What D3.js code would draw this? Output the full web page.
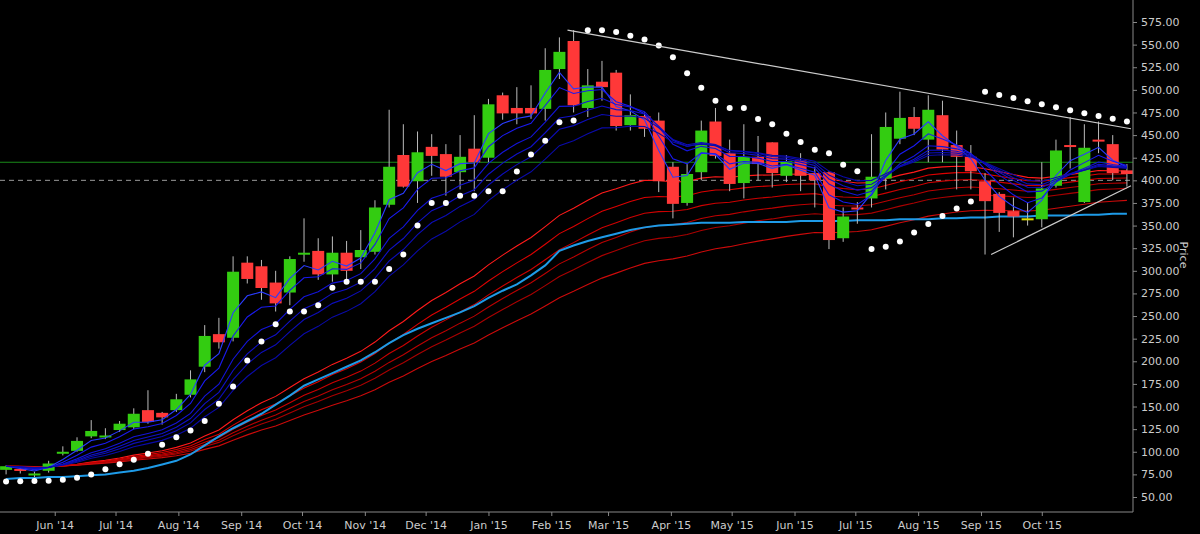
<!DOCTYPE html>
<html>
<head>
<meta charset="utf-8">
<script src="https://cdn.jsdelivr.net/npm/d3@7"></script>
<style>
body{margin:0;background:#000;}
text{font-family:"DejaVu Sans",sans-serif;}
</style>
</head>
<body>
<svg id="chart" width="1200" height="534"></svg>
<script>
// weekly candles, first week starts 2014-05-08
var opens  = [80,81,75,79,98,101,117,116,124,127,146,143,146,163,194,230,226,309,305,287,276,319,322,296,320,315,321,373,428,399,437,429,409,435,425,494,480,480,479,523,554,480,509,519,461,471,466,415,375,409,465,430,397,426,442,405,422,408,409,336,370,380,402,446,470,445,472,439,426,399,385,366,357,357,394,439,376,445,440,411];
var highs  = [85,82,78,90,106,116,135,126,134,148,168,144,164,190,240,248,316,316,312,300,316,358,336,338,333,345,378,478,462,454,451,440,450,472,490,497,503,505,546,558,566,523,532,522,495,475,475,420,418,466,480,445,462,449,442,428,430,415,410,370,376,451,475,498,481,494,488,455,439,408,387,381,375,420,445,470,462,465,450,418];
var lows   = [75,76,72,77,96,100,115,114,122,125,131,130,144,160,188,214,222,286,268,255,262,310,290,288,288,302,318,370,392,375,405,383,390,388,420,467,462,468,466,512,475,470,488,455,455,448,387,358,372,400,424,388,380,400,392,398,388,370,324,332,352,370,390,440,450,420,420,390,390,318,343,337,350,348,392,413,375,430,400,393];
var closes = [84,79,76,87,100,112,123,118,131,142,133,138,158,180,228,221,299,291,281,264,313,320,296,320,300,323,370,415,393,431,427,404,426,420,484,474,474,474,522,542,483,505,503,460,472,457,399,374,407,455,427,396,426,418,408,421,405,400,334,360,368,404,459,469,457,478,434,426,410,377,364,360,358,391,433,438,436,444,408,407];
// slow average (light blue) per week
var slowLine = [70,71,71,72,72,73,74,75,77,79,82,86,90,97,107,117,126,134,142,152,162,173,180,187,194,201,210,220,229,236,242,248,254,261,270,278,285,295,306,322,328,333,337,341,345,348,350,351,352,353,353,353,354,354,354,354,355,355,355,355,356,356,356,357,357,357,358,358,359,359,360,360,360,361,361,361,362,362,363,363];
var startDate = new Date(2014, 4, 8);
var shortPeriods = [3,5,8,10,12,15];
var longPeriods = [30,35,40,45,50,60];
var priceTicks = d3.range(50, 576, 25);
var levelLines = [420, 400];
// trend lines as [candle index, price]
var upperTrend = [[39.6,566],[79.4,457]];
var lowerTrend = [[69.5,318],[79.4,394]];

var svg = d3.select("#chart");
var plotRight = 1133, plotBottom = 512;
var x = d3.scaleTime().domain([d3.timeDay.offset(startDate,-3), d3.timeDay.offset(startDate, 79*7+3)]).range([0, 1133]);
var y = d3.scaleLinear().domain([50,575]).range([497,22]);
var xi = function(i){ return x(d3.timeDay.offset(startDate, i*7)); };

function ema(vals, p)
{
	var k = 2/(p+1), out = [], prev = vals[0];
	for(var i=0;i<vals.length;i++){ prev = i==0 ? vals[0] : vals[i]*k + prev*(1-k); out.push(prev); }
	return out;
}
function sar()
{
	var out = [], up = true, af = 0.02, ep = highs[0], s = lows[0]-8;
	out.push(s);
	for(var i=1;i<closes.length;i++)
	{
		s = s + af*(ep - s);
		if(up)
		{
			s = Math.min(s, lows[i-1], i>1?lows[i-2]:lows[i-1]);
			if(lows[i] < s){ up=false; s=ep; ep=lows[i]; af=0.02; }
			else if(highs[i] > ep){ ep=highs[i]; af=Math.min(0.2, af+0.02); }
		}
		else
		{
			s = Math.max(s, highs[i-1], i>1?highs[i-2]:highs[i-1]);
			if(highs[i] > s){ up=true; s=ep; ep=highs[i]; af=0.02; }
			else if(lows[i] < ep){ ep=lows[i]; af=Math.min(0.2, af+0.02); }
		}
		out.push(s);
	}
	return out;
}

// level lines
svg.append("line").attr("x1",0).attr("x2",plotRight).attr("y1",y(levelLines[0])).attr("y2",y(levelLines[0])).attr("stroke","#1a8a1a").attr("stroke-width",1.2);
svg.append("line").attr("x1",0).attr("x2",plotRight).attr("y1",y(levelLines[1])).attr("y2",y(levelLines[1])).attr("stroke","#999").attr("stroke-dasharray","5,4");

var line = d3.line().x(function(d,i){ return xi(i); }).y(function(d){ return y(d); });
var redCols = ["#ff1a1a","#dd0000","#cc0000","#bb0000","#aa0000","#cc0a0a"];
longPeriods.forEach(function(p,j){
	svg.append("path").attr("d",line(ema(closes,p))).attr("fill","none").attr("stroke",redCols[j]).attr("stroke-width",1.1);
});
svg.append("path").attr("d",line(slowLine)).attr("fill","none").attr("stroke","#1e9be8").attr("stroke-width",2);

// candles
var bw = 12;
var g = svg.append("g");
closes.forEach(function(c,i){
	var o = opens[i], cx = xi(i);
	var col = c>o ? "#33cc11" : (c<o ? "#ff3838" : "#dddd00");
	if(i==72) col = "#dddd00";
	g.append("line").attr("x1",cx).attr("x2",cx).attr("y1",y(highs[i])).attr("y2",y(lows[i])).attr("stroke","#bbb").attr("stroke-width",1);
	var top = y(Math.max(o,c)), bot = y(Math.min(o,c));
	g.append("rect").attr("x",cx-bw/2).attr("y",top).attr("width",bw).attr("height",Math.max(2,bot-top)).attr("fill",col);
});

var blueCols = ["#2a3cff","#1a1aee","#1414d8","#1010c8","#0c0cb8","#0a0aa8"];
shortPeriods.forEach(function(p,j){
	svg.append("path").attr("d",line(ema(closes,p))).attr("fill","none").attr("stroke",blueCols[j]).attr("stroke-width",1.1);
});

// parabolic SAR
svg.append("g").selectAll("circle").data(sar()).join("circle")
	.attr("cx",function(d,i){ return xi(i); }).attr("cy",function(d){ return y(d); }).attr("r",3).attr("fill","#fff");

// trend lines
[upperTrend, lowerTrend].forEach(function(t){
	svg.append("line").attr("x1",xi(t[0][0])).attr("y1",y(t[0][1])).attr("x2",xi(t[1][0])).attr("y2",y(t[1][1])).attr("stroke","#ccc").attr("stroke-width",1.2);
});

// axes
var yAxis = d3.axisRight(y).tickValues(priceTicks).tickFormat(d3.format(".2f")).tickSize(4);
var ya = svg.append("g").attr("transform","translate("+plotRight+",0)").call(yAxis);
ya.select(".domain").attr("d","M0,0V"+plotBottom).attr("stroke","#888");
ya.selectAll("line").attr("stroke","#888");
ya.selectAll("text").attr("fill","#ccc").attr("font-size",11).attr("x",8);

var months = d3.timeMonth.range(new Date(2014,5,1), new Date(2015,10,1));
var xAxis = d3.axisBottom(x).tickValues(months).tickFormat(d3.timeFormat("%b '%y")).tickSize(4);
var xa = svg.append("g").attr("transform","translate(0,"+plotBottom+")").call(xAxis);
xa.select(".domain").attr("d","M0,0H"+plotRight).attr("stroke","#888");
xa.selectAll("line").attr("stroke","#888");
xa.selectAll("text").attr("fill","#ccc").attr("font-size",11).attr("dy","0.9em");

svg.append("text").attr("transform","translate(1180,255) rotate(90)").attr("text-anchor","middle").attr("fill","#ccc").attr("font-size",11).text("Price");
</script>
</body>
</html>
